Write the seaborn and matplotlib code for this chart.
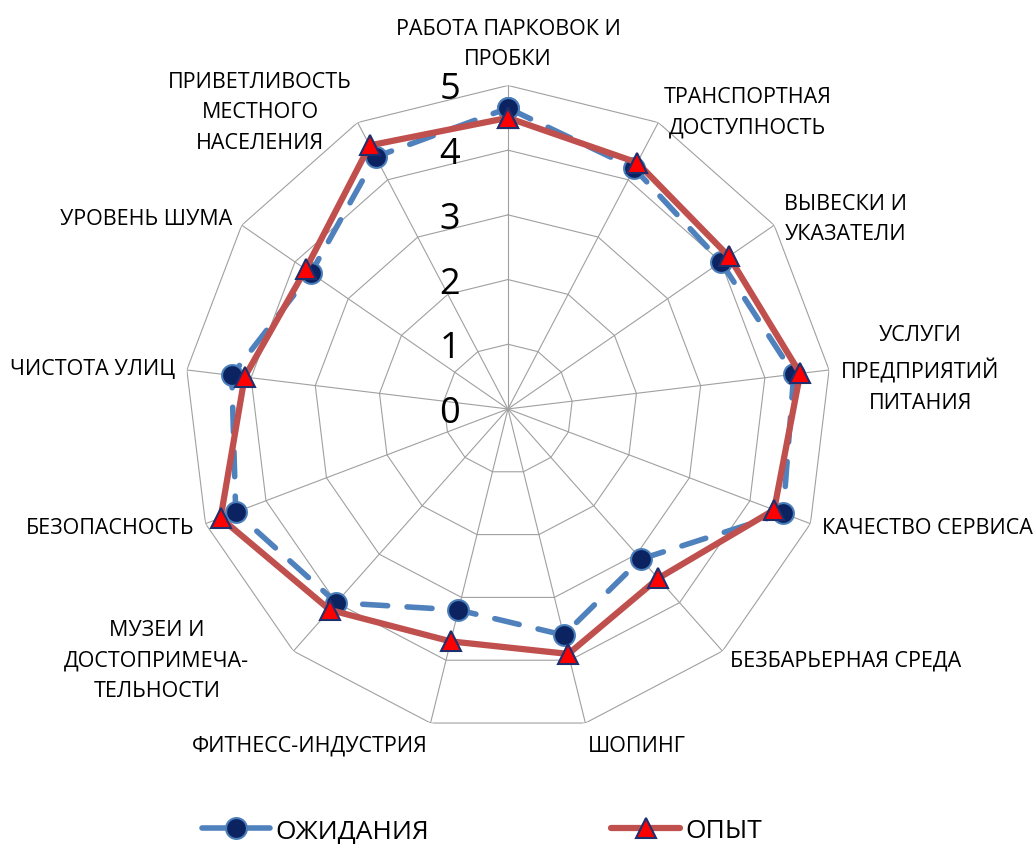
import numpy as np
import pandas as pd
import matplotlib
matplotlib.use('Agg')
import matplotlib.pyplot as plt
import matplotlib.transforms as mtransforms
import seaborn as sns

# Categories clockwise from the top
categories = ['РАБОТА ПАРКОВОК И\nПРОБКИ', 'ТРАНСПОРТНАЯ\nДОСТУПНОСТЬ', 'ВЫВЕСКИ И\nУКАЗАТЕЛИ',
              'УСЛУГИ\nПРЕДПРИЯТИЙ\nПИТАНИЯ', 'КАЧЕСТВО СЕРВИСА', 'БЕЗБАРЬЕРНАЯ СРЕДА', 'ШОПИНГ',
              'ФИТНЕСС-ИНДУСТРИЯ', 'МУЗЕИ И\nДОСТОПРИМЕЧА-\nТЕЛЬНОСТИ', 'БЕЗОПАСНОСТЬ',
              'ЧИСТОТА УЛИЦ', 'УРОВЕНЬ ШУМА', 'ПРИВЕТЛИВОСТЬ\nМЕСТНОГО\nНАСЕЛЕНИЯ']
expectations = [4.65, 4.2, 4.0, 4.45, 4.55, 3.1, 3.6, 3.2, 4.0, 4.5, 4.3, 3.7, 4.4]
experience = [4.5, 4.3, 4.15, 4.55, 4.4, 3.5, 3.9, 3.7, 4.15, 4.75, 4.1, 3.8, 4.6]
r_ticks = [0, 1, 2, 3, 4, 5]
series_names = ['ОЖИДАНИЯ', 'ОПЫТ']


def build_frame():
    n = len(categories)
    theta = np.linspace(0, 2 * np.pi, n, endpoint=False)
    rows = []
    for name, vals in zip(series_names, [expectations, experience]):
        # close the polygon by repeating the first point
        for i in range(n + 1):
            rows.append({'series': name, 'theta': theta[i % n] + (2 * np.pi if i == n else 0),
                         'value': vals[i % n]})
    return theta, pd.DataFrame(rows)


def draw_chart():
    sns.set_theme(style='white')
    plt.rcParams['font.family'] = ['Open Sans', 'DejaVu Sans']

    theta, df = build_frame()
    n = len(theta)
    rmax = r_ticks[-1]

    fig = plt.figure(figsize=(10.34, 8.45), dpi=100)
    ax = fig.add_axes([0.1784, 0.132, 0.6257, 0.7657], projection='polar')
    ax.set_theta_offset(np.pi / 2)
    ax.set_theta_direction(-1)
    ax.grid(False)
    ax.spines['polar'].set_visible(False)
    ax.set_xticks([])
    ax.set_yticks([])

    # polygon grid
    grid_c = '#A0A0A0'
    closed = np.append(theta, theta[0] + 2 * np.pi)
    for k in r_ticks[1:]:
        ax.plot(closed, [k] * (n + 1), color=grid_c, lw=0.8, zorder=1)
    for t in theta:
        ax.plot([t, t], [0, rmax], color=grid_c, lw=0.8, zorder=1)

    # series
    sns.lineplot(data=df[df['series'] == series_names[0]], x='theta', y='value',
                 sort=False, estimator=None, ax=ax, color='#4F81BD', lw=4,
                 linestyle=(0, (4.5, 3.5)), dash_capstyle='round',
                 marker='o', markersize=15, markerfacecolor='#0B2360',
                 markeredgecolor='#4A7EBB', markeredgewidth=1.5,
                 label=series_names[0], zorder=3, clip_on=False)
    sns.lineplot(data=df[df['series'] == series_names[1]], x='theta', y='value',
                 sort=False, estimator=None, ax=ax, color='#C0504D', lw=4.5,
                 marker='^', markersize=15, markerfacecolor='#FF0000',
                 markeredgecolor='#1F2F6E', markeredgewidth=1.5,
                 label=series_names[1], zorder=4, clip_on=False)
    if ax.get_legend() is not None:
        ax.get_legend().remove()
    ax.set_xlabel('')
    ax.set_ylabel('')
    ax.set_ylim(0, rmax)

    # radial value labels, left of the vertical spoke
    tr = mtransforms.offset_copy(ax.transData, fig=fig, x=-58, y=-13, units='dots')
    for k in r_ticks:
        ax.text(0, k, str(k), transform=tr, ha='center', va='baseline',
                fontsize=26, color='black', zorder=5)

    # category labels around the outer ring
    d = 12
    for i, (t, lab) in enumerate(zip(theta, categories)):
        dx, dy = np.sin(t), np.cos(t)
        ha = 'center' if abs(dx) < 0.05 else ('left' if dx > 0 else 'right')
        va = 'bottom' if dy > 0.9 else ('top' if dy < -0.9 else 'center')
        ox, oy = d * dx, d * dy
        if lab.startswith('МУЗЕИ'):
            ox -= 36
        if va == 'bottom':
            oy += 4
        tr = mtransforms.offset_copy(ax.transData, fig=fig, x=ox, y=oy, units='dots')
        ax.text(t, rmax, lab, transform=tr, ha=ha, va=va, multialignment='center',
                fontsize=15.5, linespacing=1.6, color='black')

    handles, labels = ax.get_legend_handles_labels()
    fig.legend(handles, labels, loc='center', bbox_to_anchor=(0.466, 0.0154), ncol=2,
               frameon=False, fontsize=19, handlelength=2.6, handletextpad=0.2,
               columnspacing=6.9, labelcolor='black')

    fig.savefig('out.png', dpi=100)


if __name__ == '__main__':
    draw_chart()
